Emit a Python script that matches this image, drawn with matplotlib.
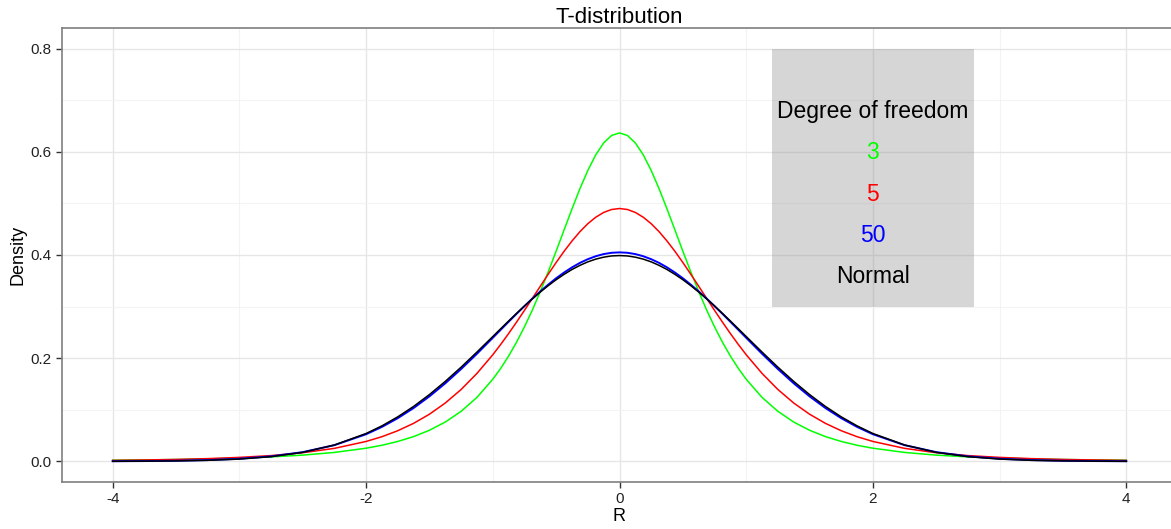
import matplotlib.pyplot as plt
from matplotlib.ticker import MultipleLocator

plt.rcParams['font.family'] = ['Liberation Sans', 'DejaVu Sans']

r = [-4, -3.75, -3.5, -3.25, -3, -2.75, -2.5, -2.25,
     -2, -1.875, -1.75, -1.625, -1.5, -1.375, -1.25, -1.125,
     -1, -0.9375, -0.875, -0.8125, -0.75, -0.6875, -0.625, -0.5625,
     -0.5, -0.4375, -0.375, -0.3125, -0.25, -0.1875, -0.125, -0.0625,
     0,
     0.0625, 0.125, 0.1875, 0.25, 0.3125, 0.375, 0.4375, 0.5,
     0.5625, 0.625, 0.6875, 0.75, 0.8125, 0.875, 0.9375, 1,
     1.125, 1.25, 1.375, 1.5, 1.625, 1.75, 1.875, 2,
     2.25, 2.5, 2.75, 3, 3.25, 3.5, 3.75, 4]

dens_df3 = [0.0022, 0.0028, 0.0036, 0.0048, 0.0064, 0.0087, 0.0121, 0.0173,
            0.0255, 0.0312, 0.0386, 0.0480, 0.0603, 0.0762, 0.0970, 0.1240,
            0.1592, 0.1803, 0.2042, 0.2310, 0.2608, 0.2935, 0.3292, 0.3674,
            0.4074, 0.4485, 0.4893, 0.5284, 0.5639, 0.5941, 0.6172, 0.6317,
            0.6366,
            0.6317, 0.6172, 0.5941, 0.5639, 0.5284, 0.4893, 0.4485, 0.4074,
            0.3674, 0.3292, 0.2935, 0.2608, 0.2310, 0.2042, 0.1803, 0.1592,
            0.1240, 0.0970, 0.0762, 0.0603, 0.0480, 0.0386, 0.0312, 0.0255,
            0.0173, 0.0121, 0.0087, 0.0064, 0.0048, 0.0036, 0.0028, 0.0022]

dens_df5 = [0.0019, 0.0027, 0.0037, 0.0053, 0.0077, 0.0112, 0.0167, 0.0252,
            0.0386, 0.0478, 0.0594, 0.0737, 0.0914, 0.1131, 0.1393, 0.1705,
            0.2067, 0.2267, 0.2478, 0.2699, 0.2927, 0.3160, 0.3395, 0.3628,
            0.3855, 0.4071, 0.4271, 0.4452, 0.4607, 0.4732, 0.4825, 0.4882,
            0.4901,
            0.4882, 0.4825, 0.4732, 0.4607, 0.4452, 0.4271, 0.4071, 0.3855,
            0.3628, 0.3395, 0.3160, 0.2927, 0.2699, 0.2478, 0.2267, 0.2067,
            0.1705, 0.1393, 0.1131, 0.0914, 0.0737, 0.0594, 0.0478, 0.0386,
            0.0252, 0.0167, 0.0112, 0.0077, 0.0053, 0.0037, 0.0027, 0.0019]

dens_df50 = [0.0003, 0.0006, 0.0012, 0.0025, 0.0051, 0.0097, 0.0179, 0.0314,
             0.0526, 0.0668, 0.0837, 0.1034, 0.1260, 0.1513, 0.1790, 0.2086,
             0.2395, 0.2551, 0.2706, 0.2860, 0.3010, 0.3156, 0.3295, 0.3426,
             0.3549, 0.3660, 0.3760, 0.3847, 0.3919, 0.3976, 0.4018, 0.4043,
             0.4051,
             0.4043, 0.4018, 0.3976, 0.3919, 0.3847, 0.3760, 0.3660, 0.3549,
             0.3426, 0.3295, 0.3156, 0.3010, 0.2860, 0.2706, 0.2551, 0.2395,
             0.2086, 0.1790, 0.1513, 0.1260, 0.1034, 0.0837, 0.0668, 0.0526,
             0.0314, 0.0179, 0.0097, 0.0051, 0.0025, 0.0012, 0.0006, 0.0003]

dens_normal = [0.0001, 0.0004, 0.0009, 0.0020, 0.0044, 0.0091, 0.0175, 0.0317,
               0.0540, 0.0688, 0.0863, 0.1065, 0.1295, 0.1550, 0.1826, 0.2119,
               0.2420, 0.2571, 0.2721, 0.2868, 0.3011, 0.3150, 0.3282, 0.3406,
               0.3521, 0.3625, 0.3719, 0.3799, 0.3867, 0.3920, 0.3958, 0.3982,
               0.3989,
               0.3982, 0.3958, 0.3920, 0.3867, 0.3799, 0.3719, 0.3625, 0.3521,
               0.3406, 0.3282, 0.3150, 0.3011, 0.2868, 0.2721, 0.2571, 0.2420,
               0.2119, 0.1826, 0.1550, 0.1295, 0.1065, 0.0863, 0.0688, 0.0540,
               0.0317, 0.0175, 0.0091, 0.0044, 0.0020, 0.0009, 0.0004, 0.0001]

legend_labels = ["Degree of freedom", "3", "5", "50", "Normal"]
legend_colors = ["black", "#00ff00", "#ff0000", "#0000ff", "black"]
legend_y = [0.678, 0.598, 0.517, 0.438, 0.358]

fig = plt.figure(figsize=(11.71, 5.29), dpi=100)
ax = fig.add_axes([62 / 1171, 1 - 482 / 529, 1115 / 1171, 454 / 529])

# grid like theme_bw
ax.xaxis.set_major_locator(MultipleLocator(2))
ax.xaxis.set_minor_locator(MultipleLocator(1))
ax.yaxis.set_major_locator(MultipleLocator(0.2))
ax.yaxis.set_minor_locator(MultipleLocator(0.1))
ax.grid(which="major", color="#e6e6e6", linewidth=1.0)
ax.grid(which="minor", color="#f3f3f3", linewidth=0.8)
ax.set_axisbelow(True)
ax.tick_params(which="minor", length=0)
ax.tick_params(which="major", length=4, width=1, color="#333333", labelcolor="#222222", labelsize=11)

ax.plot(r, dens_df3, color="#00ff00", linewidth=1.1)
ax.plot(r, dens_df5, color="#ff0000", linewidth=1.1)
ax.plot(r, dens_df50, color="#0000ff", linewidth=1.4)
ax.plot(r, dens_normal, color="black", linewidth=1.1)

ax.add_patch(plt.Rectangle((1.2, 0.3), 1.6, 0.5, facecolor="#808080", alpha=0.32, edgecolor="none", zorder=3))
for lab, col, yy in zip(legend_labels, legend_colors, legend_y):
    ax.text(2, yy, lab, color=col, ha="center", va="center", fontsize=16.5, zorder=4)

ax.set_xlim(-4.4, 4.4)
ax.set_ylim(-0.04, 0.84)
ax.set_xticks([-4, -2, 0, 2, 4])
ax.set_xticklabels(["-4", "-2", "0", "2", "4"])
ax.set_yticks([0.0, 0.2, 0.4, 0.6, 0.8])
ax.set_yticklabels(["0.0", "0.2", "0.4", "0.6", "0.8"])

for s in ax.spines.values():
    s.set_color("#7f7f7f")
    s.set_linewidth(1.2)

ax.set_xlabel("R", fontsize=13, labelpad=1)
ax.set_ylabel("Density", fontsize=13, labelpad=3)
ax.set_title("T-distribution", fontsize=16, pad=3)

fig.savefig("out.png", dpi=100)
